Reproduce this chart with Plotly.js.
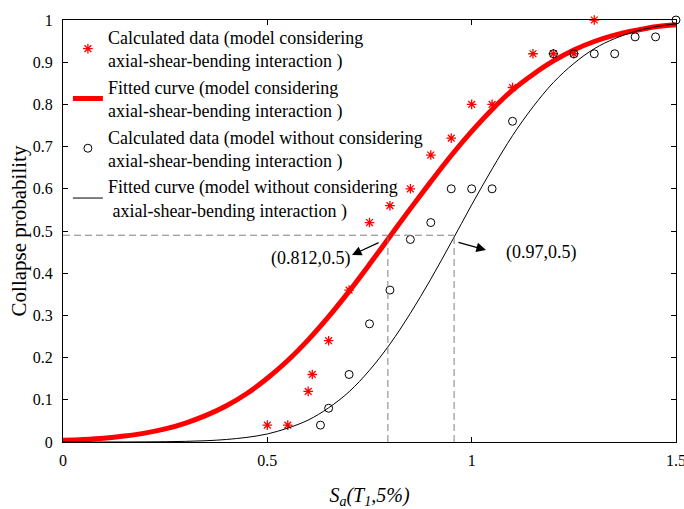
<!DOCTYPE html>
<html><head><meta charset="utf-8">
<script src="https://cdn.plot.ly/plotly-3.0.1.min.js"></script>
<style>html,body{margin:0;padding:0;background:#fff}</style>
</head><body>
<div id="chart" style="width:684px;height:509px"></div>
<script>
// Calculated data (model considering interaction)
const starX = [0.5,0.55,0.6,0.61,0.65,0.7,0.75,0.8,0.85,0.9,0.95,1.0,1.05,1.1,1.15,1.2,1.25,1.3];
const starY = [0.04,0.04,0.12,0.16,0.24,0.36,0.52,0.56,0.6,0.68,0.72,0.8,0.8,0.84,0.92,0.92,0.92,1.0];
// Calculated data (model without considering interaction)
const circX = [0.63,0.65,0.7,0.75,0.8,0.85,0.9,0.95,1.0,1.05,1.1,1.2,1.25,1.3,1.35,1.4,1.45,1.5];
const circY = [0.04,0.08,0.16,0.28,0.36,0.48,0.52,0.6,0.6,0.6,0.76,0.92,0.92,0.92,0.92,0.96,0.96,1.0];
// Fitted curves
const fitX = [0,0.05,0.1,0.15,0.2,0.25,0.3,0.35,0.4,0.45,0.5,0.55,0.6,0.65,0.7,0.75,0.8,0.85,0.9,0.95,1.0,1.05,1.1,1.15,1.2,1.25,1.3,1.35,1.4,1.45,1.5];
const fitRed = [0.004,0.006,0.009,0.014,0.021,0.031,0.045,0.063,0.086,0.115,0.151,0.193,0.242,0.297,0.357,0.421,0.487,0.553,0.617,0.679,0.736,0.788,0.834,0.871,0.903,0.929,0.949,0.964,0.975,0.984,0.989];
const fitBlack = [0,0,0.0001,0.0001,0.0003,0.0007,0.0015,0.003,0.006,0.011,0.019,0.033,0.052,0.081,0.119,0.17,0.232,0.305,0.386,0.473,0.562,0.647,0.726,0.794,0.852,0.897,0.932,0.956,0.973,0.984,0.991];
// Guide lines and labels
const guideY = 0.49;
const guideX = [0.795, 0.957];
const labelText = ['(0.812,0.5)', '(0.97,0.5)'];
const labelPos = [[0.607, 0.436], [1.17, 0.45]];
const arrowTail = [[0.776, 0.474], [0.964, 0.474]];
const arrowHead = [[0.707, 0.443], [1.035, 0.455]];
const xTicks = [0, 0.5, 1, 1.5];
const xTickText = ['0', '0.5', '1', '1.5'];
const yTicks = [0,0.1,0.2,0.3,0.4,0.5,0.6,0.7,0.8,0.9,1];
const yTickText = ['0','0.1','0.2','0.3','0.4','0.5','0.6','0.7','0.8','0.9','1'];
const names = [
  'Calculated data (model considering<br>axial-shear-bending interaction )',
  'Fitted curve (model considering<br>axial-shear-bending interaction )',
  'Calculated data (model without considering<br>axial-shear-bending interaction )',
  'Fitted curve (model without considering<br>\u00a0axial-shear-bending interaction )'
];

const FONT = 'Liberation Serif, Times New Roman, serif';
const traces = [
  {x: starX, y: starY, name: names[0], mode: 'markers', type: 'scatter', cliponaxis: false,
   marker: {symbol: 'asterisk-open', size: 8, color: '#ff0000', line: {color: '#ff0000', width: 1.3}}},
  {x: fitX, y: fitRed, name: names[1], mode: 'lines', type: 'scatter',
   line: {color: '#ff0000', width: 5, shape: 'spline'}},
  {x: circX, y: circY, name: names[2], mode: 'markers', type: 'scatter', cliponaxis: false,
   marker: {symbol: 'circle-open', size: 8, color: '#000000', line: {color: '#000000', width: 1}}},
  {x: fitX, y: fitBlack, name: names[3], mode: 'lines', type: 'scatter',
   line: {color: '#000000', width: 1, shape: 'spline'}}
];

const shapes = [
  {type: 'line', xref: 'x', yref: 'y', x0: 0, x1: guideX[1], y0: guideY, y1: guideY,
   line: {color: '#808080', width: 1, dash: '7px,4px'}},
  {type: 'line', xref: 'x', yref: 'y', x0: guideX[0], x1: guideX[0], y0: 0, y1: guideY,
   line: {color: '#808080', width: 1, dash: '7px,4px'}},
  {type: 'line', xref: 'x', yref: 'y', x0: guideX[1], x1: guideX[1], y0: 0, y1: guideY,
   line: {color: '#808080', width: 1, dash: '7px,4px'}}
];

const annotations = [];
for (let i = 0; i < 2; i++) {
  annotations.push({x: labelPos[i][0], y: labelPos[i][1], xref: 'x', yref: 'y', text: labelText[i],
    showarrow: false, font: {family: FONT, size: 18, color: '#000'}});
  annotations.push({x: arrowHead[i][0], y: arrowHead[i][1], ax: arrowTail[i][0], ay: arrowTail[i][1],
    xref: 'x', yref: 'y', axref: 'x', ayref: 'y', text: '', showarrow: true,
    arrowhead: 2, arrowsize: 1.6, arrowwidth: 1.2, arrowcolor: '#000'});
}

const layout = {
  width: 684, height: 509,
  margin: {l: 63, r: 8, t: 20, b: 67},
  paper_bgcolor: '#fff', plot_bgcolor: '#fff',
  font: {family: FONT, size: 16, color: '#000'},
  showlegend: true,
  legend: {x: 0.008, y: 1.003, xanchor: 'left', yanchor: 'top', bgcolor: 'rgba(0,0,0,0)',
    font: {family: FONT, size: 18, color: '#000'}, tracegroupgap: 0},
  xaxis: {range: [0, 1.5], tickvals: xTicks, ticktext: xTickText, ticks: 'inside', ticklen: 5,
    tickcolor: '#000', showline: true, linecolor: '#000', linewidth: 1, mirror: 'ticks',
    showgrid: false, zeroline: false, ticklabelstandoff: 4, ticklabeloverflow: 'allow',
    tickfont: {family: FONT, size: 16, color: '#000'},
    title: {text: '<i>S</i><sub><i>a</i></sub><i>(T</i><sub><i>1</i></sub><i>,5%)</i>', standoff: 22,
      font: {family: FONT, size: 20, color: '#000'}}},
  yaxis: {range: [0, 1], tickvals: yTicks, ticktext: yTickText, ticks: 'inside', ticklen: 5,
    tickcolor: '#000', showline: true, linecolor: '#000', linewidth: 1, mirror: 'ticks',
    showgrid: false, zeroline: false, ticklabelstandoff: 6,
    tickfont: {family: FONT, size: 16, color: '#000'},
    title: {text: 'Collapse probability', standoff: 0,
      font: {family: FONT, size: 21, color: '#000'}}},
  shapes: shapes,
  annotations: annotations
};

Plotly.newPlot('chart', traces, layout, {displayModeBar: false, staticPlot: true});
</script>
</body></html>
